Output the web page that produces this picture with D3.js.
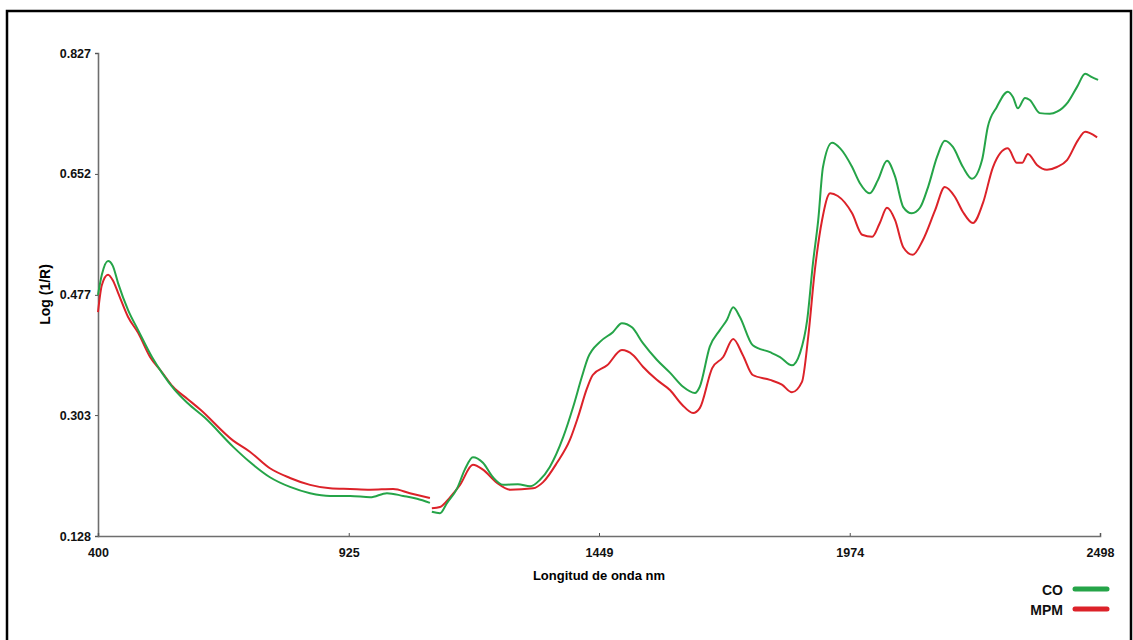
<!DOCTYPE html>
<html>
<head>
<meta charset="utf-8">
<script src="https://cdn.jsdelivr.net/npm/d3@7"></script>
<style>
    body { margin: 0; background: #fff; }
    svg { display: block; }
    .tick text, .legend text, .title { font-family: "Liberation Sans", Arial, sans-serif; font-weight: bold; }
</style>
</head>
<body>
<svg id="chart" width="1133" height="640"></svg>
<script>
const coWavelength = [400, 408, 421, 431, 442, 463, 484, 513, 534, 561, 588, 624, 683, 718, 760, 802, 844, 886, 928, 970, 1005, 1039, 1068, 1095,
    1097,
    1099, 1116, 1131, 1152, 1168, 1185, 1206, 1227, 1248, 1279, 1305, 1325, 1346, 1374, 1395, 1413, 1426, 1451, 1478, 1497, 1518, 1541, 1570, 1598,
    1625, 1650, 1660, 1681, 1702, 1717, 1730, 1744, 1771, 1807, 1828, 1853, 1870, 1885, 1897, 1908, 1918, 1937, 1954, 1979, 1995, 2016, 2033, 2052,
    2069, 2086, 2104, 2121, 2138, 2157, 2173, 2190, 2211, 2230, 2251, 2263, 2282, 2305, 2316, 2326, 2341, 2351, 2372, 2393, 2408, 2431, 2450, 2467,
    2481, 2494];
const coValues = [0.477, 0.506, 0.526, 0.519, 0.494, 0.455, 0.426, 0.387, 0.364, 0.339, 0.320, 0.299, 0.257, 0.235, 0.213, 0.199, 0.190, 0.186, 0.186, 0.184, 0.190, 0.186, 0.182, 0.176,
    null,
    0.163, 0.161, 0.176, 0.197, 0.224, 0.242, 0.234, 0.213, 0.202, 0.203, 0.200, 0.209, 0.228, 0.271, 0.315, 0.358, 0.386, 0.409, 0.423, 0.436, 0.430, 0.407, 0.383, 0.364,
    0.344, 0.335, 0.344, 0.402, 0.426, 0.441, 0.459, 0.445, 0.404, 0.394, 0.387, 0.375, 0.393, 0.441, 0.523, 0.585, 0.662, 0.697, 0.689, 0.662, 0.639, 0.624, 0.643, 0.671,
    0.648, 0.604, 0.595, 0.603, 0.633, 0.677, 0.700, 0.691, 0.662, 0.645, 0.672, 0.720, 0.749, 0.771, 0.763, 0.747, 0.762, 0.759, 0.740, 0.739, 0.742, 0.756, 0.778, 0.797,
    0.792, 0.788];

const mpmWavelength = [400, 408, 421, 431, 442, 463, 484, 509, 534, 557, 588, 614, 683, 718, 760, 802, 844, 886, 928, 970, 1018, 1053, 1095,
    1097,
    1099, 1116, 1137, 1158, 1185, 1206, 1235, 1263, 1311, 1332, 1361, 1388, 1405, 1424, 1436, 1466, 1497, 1520, 1541, 1570, 1598, 1623, 1646,
    1660, 1686, 1709, 1730, 1750, 1771, 1807, 1832, 1853, 1874, 1887, 1901, 1916, 1933, 1949, 1979, 2000, 2021, 2037, 2052, 2069, 2086, 2106,
    2127, 2153, 2173, 2194, 2211, 2232, 2253, 2274, 2305, 2324, 2335, 2347, 2366, 2387, 2408, 2429, 2452, 2467, 2477, 2492];
const mpmValues = [0.452, 0.491, 0.506, 0.498, 0.480, 0.445, 0.422, 0.387, 0.365, 0.344, 0.326, 0.311, 0.266, 0.250, 0.226, 0.212, 0.202, 0.197, 0.196, 0.195, 0.196, 0.190, 0.183,
    null,
    0.168, 0.170, 0.184, 0.202, 0.231, 0.224, 0.205, 0.195, 0.197, 0.206, 0.234, 0.267, 0.300, 0.342, 0.361, 0.375, 0.397, 0.390, 0.373, 0.354, 0.339, 0.318, 0.306,
    0.313, 0.371, 0.387, 0.413, 0.390, 0.361, 0.354, 0.347, 0.336, 0.351, 0.416, 0.513, 0.585, 0.624, 0.620, 0.595, 0.564, 0.561, 0.581, 0.603, 0.585, 0.546, 0.535,
    0.556, 0.600, 0.633, 0.619, 0.597, 0.581, 0.610, 0.662, 0.689, 0.668, 0.668, 0.681, 0.665, 0.658, 0.662, 0.672, 0.701, 0.713, 0.711, 0.705];

const xTicks = [400, 925, 1449, 1974, 2498];
const yTicks = [0.128, 0.303, 0.477, 0.652, 0.827];

const seriesNames = ["CO", "MPM"];
const seriesColors = ["#25a448", "#dc2229"];

const svg = d3.select("#chart");
const margin = { top: 53, right: 33, bottom: 104, left: 98 };
const width = 1133 - margin.left - margin.right;
const height = 640 - margin.top - margin.bottom;

// marco negro
svg.append("rect")
    .attr("x", 7).attr("y", 11)
    .attr("width", 1124).attr("height", 640)
    .attr("fill", "none")
    .attr("stroke", "#000")
    .attr("stroke-width", 2.5);

const x = d3.scaleLinear().domain([400, 2498]).range([0, width]);
const y = d3.scaleLinear().domain([0.128, 0.827]).range([height, 0]);

const g = svg.append("g").attr("transform", `translate(${margin.left},${margin.top})`);

const yAxis = g.append("g")
    .call(d3.axisLeft(y).tickValues(yTicks).tickSize(3).tickPadding(4).tickFormat(d3.format(".3f")));
const xAxis = g.append("g")
    .attr("transform", `translate(0,${height})`)
    .call(d3.axisBottom(x).tickValues(xTicks).tickSize(-3).tickPadding(12).tickFormat(d3.format("d")));

[xAxis, yAxis].forEach(ax => {
    ax.select(".domain").attr("stroke", "#6e6e6e").attr("stroke-width", 1.6);
    ax.selectAll(".tick line").attr("stroke", "#555");
    ax.selectAll(".tick text")
        .attr("fill", "#111")
        .attr("font-size", 12.5);
});

const line = d3.line()
    .defined(d => d.v !== null)
    .x(d => x(d.w))
    .y(d => y(d.v))
    .curve(d3.curveMonotoneX);

const coData = coWavelength.map((w, i) => ({ w: w, v: coValues[i] }));
const mpmData = mpmWavelength.map((w, i) => ({ w: w, v: mpmValues[i] }));

// rojo primero, verde encima
g.append("path").datum(mpmData)
    .attr("d", line)
    .attr("fill", "none")
    .attr("stroke", seriesColors[1])
    .attr("stroke-width", 2);
g.append("path").datum(coData)
    .attr("d", line)
    .attr("fill", "none")
    .attr("stroke", seriesColors[0])
    .attr("stroke-width", 2);

// titulos de ejes
svg.append("text")
    .attr("class", "title")
    .attr("x", margin.left + x(1449))
    .attr("y", 580)
    .attr("text-anchor", "middle")
    .attr("font-size", 13)
    .text("Longitud de onda nm");

svg.append("text")
    .attr("class", "title")
    .attr("transform", `translate(50,${margin.top + height / 2}) rotate(-90)`)
    .attr("text-anchor", "middle")
    .attr("font-size", 14)
    .text("Log (1/R)");

// leyenda
const legend = svg.append("g").attr("class", "legend");
seriesNames.forEach((name, i) => {
    const ly = 589 + i * 20;
    legend.append("text")
        .attr("x", 1063)
        .attr("y", ly + 6)
        .attr("text-anchor", "end")
        .attr("font-size", 14)
        .attr("fill", "#111")
        .text(name);
    legend.append("line")
        .attr("x1", 1075).attr("x2", 1107)
        .attr("y1", ly).attr("y2", ly)
        .attr("stroke", seriesColors[i])
        .attr("stroke-width", 5)
        .attr("stroke-linecap", "round");
});
</script>
</body>
</html>
